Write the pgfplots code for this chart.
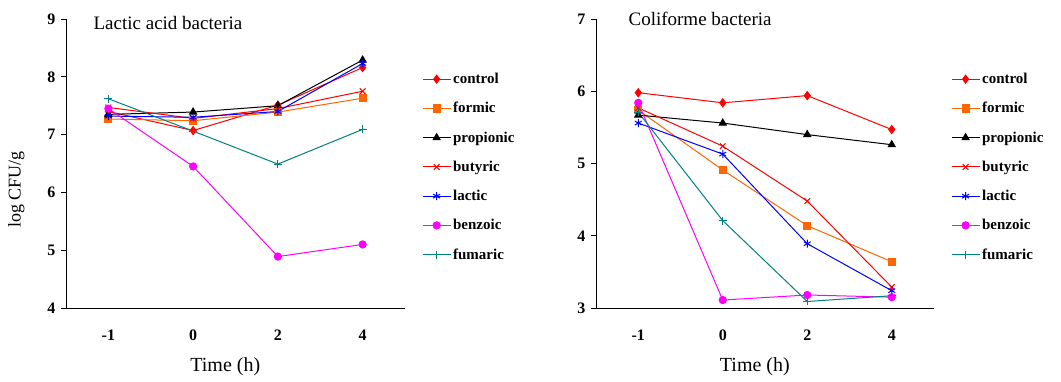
\documentclass[border=0pt]{standalone}
\usepackage{fontspec}
\setmainfont{Liberation Serif}
\usepackage{pgfplots}
\pgfplotsset{compat=1.18}

\definecolor{cOrange}{HTML}{FF6600}
\definecolor{cTeal}{HTML}{008080}
\definecolor{cMagenta}{HTML}{FF00FF}

\pgfplotsset{
  bact/.style={
    scale only axis, width=339pt, height=289pt,
    xmin=0.5, xmax=4.5,
    axis lines=left, axis line style={-, line width=0.8pt},
    clip=false,
    tick align=outside, major tick length=5pt,
    tick style={black, line width=0.8pt},
    xtick={1,2,3,4}, xticklabels={-1,0,2,4},
    xtick style={draw=none},
    extra x ticks={0.5,1.5,2.5,3.5,4.5}, extra x tick labels={},
    extra x tick style={tick style={black, line width=0.8pt}, major tick length=5pt},
    /pgf/number format/assume math mode=true,
    tick label style={font=\bfseries\fontsize{16}{16}\selectfont},
    xticklabel style={yshift=-13pt},
    yticklabel style={xshift=-2pt},
    xlabel={Time (h)},
    xlabel style={font=\fontsize{20}{20}\selectfont, at={(axis description cs:0.47,0)}, anchor=north, yshift=-46pt},
    legend cell align=left,
    legend style={draw=none, fill=none, inner sep=0pt, row sep=13.3pt,
      font=\bfseries\fontsize{15}{15}\selectfont,
      anchor=north west, at={(axis description cs:1.05,0.82)}},
    legend image code/.code={
      \draw[mark repeat=2,mark phase=2,##1] plot coordinates {(0pt,0pt) (14pt,0pt) (28pt,0pt)};},
    every axis plot/.append style={line width=1pt},
  },
  sCtrl/.style={color=red, mark=diamond*, mark size=4pt},
  sForm/.style={color=cOrange, mark=square*, mark size=3.6pt},
  sProp/.style={color=black, mark=triangle*, mark size=4pt},
  sButy/.style={color=red, mark=x, mark size=4pt},
  sLact/.style={color=blue, mark=asterisk, mark size=4pt},
  sBenz/.style={color=cMagenta, mark=*, mark size=3.6pt},
  sFuma/.style={color=cTeal, mark=+, mark size=4pt},
}

\begin{document}
\begin{tikzpicture}
\useasboundingbox (0,0) rectangle (1061pt,-382pt);

% left panel: lactic acid bacteria
\begin{axis}[bact, at={(66pt,-308pt)}, anchor=south west,
    ymin=4, ymax=9, ytick={4,...,9},
    ylabel={log CFU/g},
    ylabel style={font=\fontsize{18}{18}\selectfont, at={(axis description cs:-0.112,0.41)}},
]
\addplot[sCtrl] coordinates {(1,7.40) (2,7.07) (3,7.51) (4,8.16)};
\addplot[sForm] coordinates {(1,7.27) (2,7.24) (3,7.39) (4,7.63)};
\addplot[sProp] coordinates {(1,7.35) (2,7.39) (3,7.50) (4,8.29)};
\addplot[sButy] coordinates {(1,7.47) (2,7.28) (3,7.45) (4,7.75)};
\addplot[sLact] coordinates {(1,7.32) (2,7.30) (3,7.40) (4,8.23)};
\addplot[sBenz] coordinates {(1,7.45) (2,6.45) (3,4.89) (4,5.10)};
\addplot[sFuma] coordinates {(1,7.62) (2,7.06) (3,6.49) (4,7.09)};
\legend{control,formic,propionic,butyric,lactic,benzoic,fumaric}
\node[anchor=base west, font=\fontsize{19}{19}\selectfont] at (axis description cs:0.071,0.965) {Lactic acid bacteria};
\end{axis}

% right panel: coliforme bacteria
\begin{axis}[bact, at={(596pt,-308pt)}, anchor=south west, width=338pt,
    ymin=3, ymax=7, ytick={3,...,7},
]
\addplot[sCtrl] coordinates {(1,5.98) (2,5.84) (3,5.94) (4,5.47)};
\addplot[sForm] coordinates {(1,5.74) (2,4.91) (3,4.14) (4,3.64)};
\addplot[sProp] coordinates {(1,5.67) (2,5.56) (3,5.40) (4,5.26)};
\addplot[sButy] coordinates {(1,5.77) (2,5.24) (3,4.48) (4,3.29)};
\addplot[sLact] coordinates {(1,5.56) (2,5.13) (3,3.89) (4,3.24)};
\addplot[sBenz] coordinates {(1,5.84) (2,3.11) (3,3.18) (4,3.15)};
\addplot[sFuma] coordinates {(1,5.71) (2,4.21) (3,3.09) (4,3.17)};
\legend{control,formic,propionic,butyric,lactic,benzoic,fumaric}
\node[anchor=base west, font=\fontsize{19}{19}\selectfont] at (axis description cs:0.086,0.979) {Coliforme bacteria};
\end{axis}
\end{tikzpicture}
\end{document}
